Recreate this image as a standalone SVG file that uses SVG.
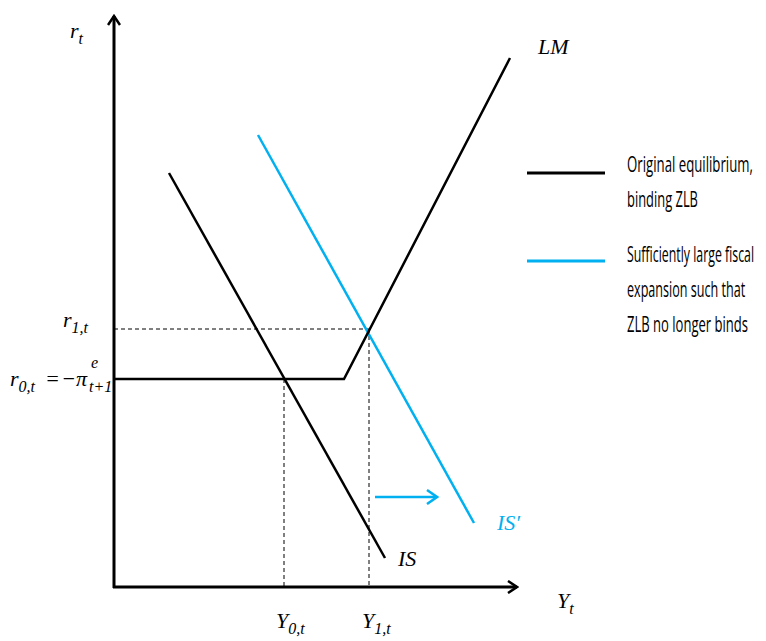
<svg xmlns="http://www.w3.org/2000/svg" width="766" height="641" viewBox="0 0 766 641">
<style>
.m{font-family:"Liberation Serif","DejaVu Serif",serif;font-style:italic;font-size:22px;fill:#000}
.s{font-size:16px}
.t{font-family:"Open Sans","Liberation Sans",sans-serif;font-size:21px;fill:#000}
.ax{stroke:#000;stroke-width:3;fill:none}
.k{stroke:#000;stroke-width:2.5;fill:none}
.b{stroke:#00b0f0;stroke-width:2.5;fill:none}
.d{stroke:#000;stroke-width:1;stroke-dasharray:4,3;fill:none}
</style>
<defs>
<marker id="ah" markerWidth="12" markerHeight="14" refX="10" refY="7" orient="auto" markerUnits="userSpaceOnUse">
<path d="M1,1 L10,7 L1,13" fill="none" stroke="#000" stroke-width="2.5"/>
</marker>
<marker id="ahb" markerWidth="14" markerHeight="16" refX="11" refY="8" orient="auto" markerUnits="userSpaceOnUse">
<path d="M2,1 L12,8 L2,15" fill="none" stroke="#00b0f0" stroke-width="2.5"/>
</marker>
</defs>
<g id="axes">
<line class="ax" x1="114" y1="588" x2="114" y2="16" marker-end="url(#ah)"/>
<line class="ax" x1="113" y1="587" x2="517" y2="587" marker-end="url(#ah)"/>
</g>
<g id="connectors">
<line class="d" x1="114" y1="329" x2="369" y2="329"/>
<line class="d" x1="369" y1="329" x2="369" y2="587"/>
<line class="d" x1="284" y1="379" x2="284" y2="587"/>
<line class="b" x1="375" y1="497" x2="436" y2="497" marker-end="url(#ahb)"/>
</g>
<g id="IS"><line class="k" x1="169" y1="173" x2="385" y2="558"/></g>
<g id="ISprime"><line class="b" x1="258" y1="135" x2="474" y2="523"/></g>
<g id="LM"><polyline class="k" points="114,379 344,379 510,58"/></g>
<g id="labels">
<text class="m" x="70" y="38">r<tspan class="s" dy="6">t</tspan></text>
<text class="m" x="63" y="327">r<tspan class="s" dy="6">1,t</tspan></text>
<text class="m" x="10" y="386">r<tspan class="s" dy="6">0,t</tspan></text>
<text class="m" x="45" y="386" font-style="normal">=</text>
<text class="m" x="61" y="386" font-style="normal" font-size="19">−</text>
<text class="m" x="76" y="386">π</text>
<text class="m s" x="89" y="392">t+1</text>
<text class="m s" x="91" y="368">e</text>
<text class="m" x="276" y="628">Y<tspan class="s" dy="6">0,t</tspan></text>
<text class="m" x="362" y="628">Y<tspan class="s" dy="6">1,t</tspan></text>
<text class="m" x="557" y="608">Y<tspan class="s" dy="6">t</tspan></text>
<text class="m" x="398" y="566">IS</text>
<text class="m" x="497" y="530" style="fill:#00b0f0">IS′</text>
<text class="m" x="538" y="54">LM</text>
</g>
<g id="legend">
<line x1="527" y1="173" x2="605" y2="173" stroke="#000" stroke-width="3"/>
<line x1="527" y1="261" x2="605" y2="261" stroke="#00b0f0" stroke-width="3"/>
<g transform="translate(627,0) scale(0.55,1)">
<text class="t" x="0" y="172" textLength="229" lengthAdjust="spacingAndGlyphs">Original equilibrium,</text>
<text class="t" x="0" y="207" textLength="129" lengthAdjust="spacingAndGlyphs">binding ZLB</text>
<text class="t" x="0" y="262" textLength="231" lengthAdjust="spacingAndGlyphs">Sufficiently large fiscal</text>
<text class="t" x="0" y="297" textLength="215" lengthAdjust="spacingAndGlyphs">expansion such that</text>
<text class="t" x="0" y="332" textLength="220" lengthAdjust="spacingAndGlyphs">ZLB no longer binds</text>
</g>
</g>
</svg>
